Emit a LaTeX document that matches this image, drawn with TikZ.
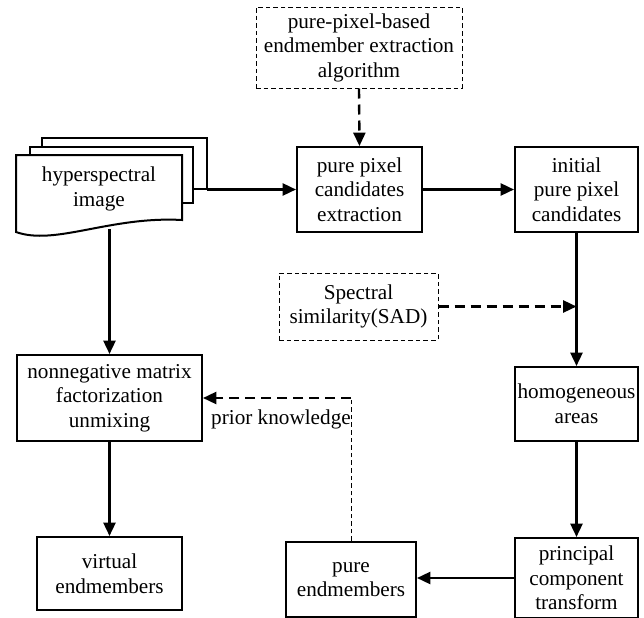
\documentclass[tikz,border=0pt]{standalone}
\usepackage{fontspec}
\setmainfont{Liberation Serif}
\usetikzlibrary{arrows.meta}
\begin{document}
\begin{tikzpicture}[x=0.75pt,y=-0.75pt,
  every node/.style={font=\fontsize{15.9}{18.4}\selectfont, align=center, inner sep=0pt},
  sz/.style 2 args={minimum width={#1*0.75pt}, minimum height={#2*0.75pt}},
  solidbox/.style={draw, line width=1.5pt, rectangle},
  dashbox/.style={draw, line width=0.75pt, rectangle, dash pattern=on 3.5pt off 2.2pt},
  arr/.style={line width=1.8pt, -{Triangle[length=10pt,width=9pt]}},
  darr/.style={line width=1.8pt, dash pattern=on 7.5pt off 4.5pt, -{Triangle[length=10pt,width=9pt]}},
  thindash/.style={line width=0.75pt, dash pattern=on 3.5pt off 2.2pt}
]
\useasboundingbox (0,0) rectangle (644,618);

% hyperspectral image stack
\draw[line width=1.5pt, fill=white] (42,189) -- (42,138) -- (207,138) -- (207,189) -- cycle;
\draw[line width=1.5pt, fill=white] (30,203) -- (30,147) -- (193,147) -- (193,203) -- cycle;
\draw[line width=1.5pt, fill=white] (16,232) -- (16,155) -- (182,155) -- (182,220)
  .. controls (110,216) and (55,246) .. (16,232) -- cycle;
\node (hsi) at (99,189) {hyperspectral\\image};
\coordinate (hsir) at (207,189.5);
\coordinate (hsib) at (109.5,229);

% nodes
\node[dashbox, sz={206}{81}] (alg) at (359,47.5) {pure-pixel-based\\endmember extraction\\algorithm};
\node[solidbox, sz={125}{85}] (ppc) at (359.5,189.5) {pure pixel\\candidates\\extraction};
\node[solidbox, sz={123}{85}] (ipc) at (576.5,189.5) {initial\\pure pixel\\candidates};
\node[dashbox, sz={159}{67}] (ss) at (358.5,306.5) {Spectral\\similarity(SAD)};
\node[solidbox, sz={123}{74}] (hom) at (576.5,404) {homogeneous\\areas};
\node[solidbox, sz={185}{86}] (nmf) at (109.5,398) {nonnegative matrix\\factorization\\unmixing};
\node[solidbox, sz={123}{80}] (pc) at (576.5,578) {principal\\component\\transform};
\node[solidbox, sz={130}{75}] (pe) at (351,579.5) {pure\\endmembers};
\node[solidbox, sz={145}{73}] (ve) at (109.5,573.5) {virtual\\endmembers};
\node (pk) at (281,419) {prior knowledge};

% connectors
\draw[arr] (hsir) -- (ppc.west);
\draw[arr] (ppc.east) -- (ipc.west);
\draw[darr] (alg.south) -- (ppc.north);
\draw[arr] (ipc.south) -- (hom.north);
\coordinate (ssj) at (ipc.south |- ss.east);
\draw[darr] (ss.east) -- (ssj);
\draw[arr] (hom.south) -- (pc.north);
\draw[arr] (pc.west) -- (pc.west -| pe.east);
\draw[arr] (hsib) -- (nmf.north);
\draw[arr] (nmf.south) -- (ve.north);
\coordinate (pkc) at (pe.north |- nmf.east);
\draw[thindash] (pe.north) -- (pkc);
\draw[darr] (pkc) -- (nmf.east);
\end{tikzpicture}
\end{document}
